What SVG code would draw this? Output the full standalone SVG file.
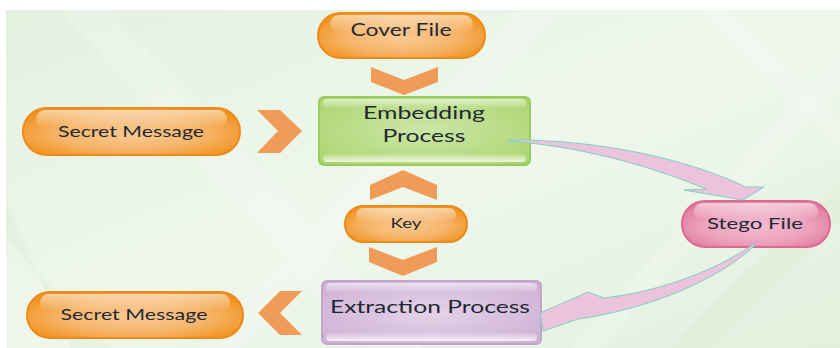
<svg xmlns="http://www.w3.org/2000/svg" width="840" height="348" viewBox="0 0 840 348">
  <defs>
    <linearGradient id="bg" x1="0" y1="0" x2="1" y2="1">
      <stop offset="0" stop-color="#e3f1df"/>
      <stop offset="0.5" stop-color="#eff7ed"/>
      <stop offset="1" stop-color="#e2f0dd"/>
    </linearGradient>
    <radialGradient id="orange" cx="0.5" cy="0.55" r="0.6">
      <stop offset="0" stop-color="#f9c993"/>
      <stop offset="0.55" stop-color="#f6b56b"/>
      <stop offset="1" stop-color="#f1921f"/>
    </radialGradient>
    <radialGradient id="pink" cx="0.5" cy="0.55" r="0.6">
      <stop offset="0" stop-color="#f3bcd0"/>
      <stop offset="0.6" stop-color="#eca2bd"/>
      <stop offset="1" stop-color="#e27a9e"/>
    </radialGradient>
    <radialGradient id="green" cx="0.5" cy="0.5" r="0.7">
      <stop offset="0" stop-color="#cde6a8"/>
      <stop offset="1" stop-color="#aad46c"/>
    </radialGradient>
    <radialGradient id="purple" cx="0.5" cy="0.5" r="0.7">
      <stop offset="0" stop-color="#e4d3e8"/>
      <stop offset="1" stop-color="#ccaed4"/>
    </radialGradient>
    <linearGradient id="gloss" x1="0" y1="0" x2="0" y2="1">
      <stop offset="0" stop-color="#ffffff" stop-opacity="0.6"/>
      <stop offset="1" stop-color="#ffffff" stop-opacity="0"/>
    </linearGradient>
    <linearGradient id="glossUp" x1="0" y1="1" x2="0" y2="0">
      <stop offset="0" stop-color="#ffffff" stop-opacity="0.8"/>
      <stop offset="1" stop-color="#ffffff" stop-opacity="0.1"/>
    </linearGradient>
  </defs>
  <style>
    .lbl { font-family: Lato, "Liberation Sans", sans-serif; fill: #1f2933; text-anchor: middle; }
    .pillO { fill: url(#orange); stroke: #ee8a18; stroke-width: 2; }
    .pillP { fill: url(#pink); stroke: #dc6a8f; stroke-width: 2; }
    .chev { fill: #f19b59; }
    .arrow { fill: #ecc3dd; stroke: #7fd0c2; stroke-width: 1; }
    .gl { fill: url(#gloss); }
    .band { fill: #ffffff; opacity: 0.18; }
    .bandD { fill: #d4e9cc; opacity: 0.25; }
  </style>

  <!-- page and panel background -->
  <rect x="0" y="0" width="840" height="348" fill="#ffffff"/>
  <rect x="6" y="10" width="834" height="338" fill="url(#bg)"/>
  <g>
    <polygon class="band" points="60,10 110,10 420,348 370,348"/>
    <polygon class="band" points="520,10 560,10 240,348 200,348"/>
    <polygon class="band" points="700,10 730,10 840,120 840,150"/>
    <polygon class="bandD" points="6,200 6,240 110,348 70,348"/>
    <polygon class="bandD" points="840,180 840,220 710,348 670,348"/>
    <polygon class="band" points="880,10 910,10 600,348 570,348"/>
  </g>

  <!-- connectors -->
  <g id="connectors">
    <!-- chevrons -->
    <polygon class="chev" points="371,67 404,80 438,67 438,82 404,95 371,82"/>
    <polygon class="chev" points="257,110 280,110 302,131 280,153 257,153 278,131"/>
    <polygon class="chev" points="403,170 437,185 437,200 403,187 370,200 370,185"/>
    <polygon class="chev" points="369,247 403,260 437,247 437,262 403,276 369,262"/>
    <polygon class="chev" points="302,291 280,291 258,313 280,335 302,335 280,313"/>
  </g>

  <!-- nodes -->
  <g id="cover-file">
    <rect class="pillO" x="318" y="13" width="167" height="45" rx="22.5"/>
    <rect class="gl" x="330" y="15" width="143" height="18" rx="9"/>
    <text class="lbl" x="401" y="36" font-size="17" textLength="101" lengthAdjust="spacingAndGlyphs">Cover File</text>
  </g>

  <g id="secret-message-in">
    <rect class="pillO" x="23" y="108" width="217" height="47" rx="23.5"/>
    <rect class="gl" x="36" y="110" width="191" height="18" rx="9"/>
    <text class="lbl" x="131" y="137" font-size="15" textLength="146" lengthAdjust="spacingAndGlyphs">Secret Message</text>
  </g>

  <g id="embedding-process">
    <rect x="319" y="97" width="211" height="68" rx="5" fill="url(#green)" stroke="#97cc5c" stroke-width="2"/>
    <rect class="gl" x="323" y="99" width="203" height="10" rx="4"/>
    <rect x="323" y="154" width="203" height="8" rx="4" fill="url(#glossUp)"/>
    <text class="lbl" x="424" y="119" font-size="17" textLength="122" lengthAdjust="spacingAndGlyphs">Embedding</text>
    <text class="lbl" x="424" y="142" font-size="17" textLength="83" lengthAdjust="spacingAndGlyphs">Process</text>
  </g>

  <g id="key">
    <rect class="pillO" x="345" y="206" width="122" height="36" rx="18"/>
    <rect class="gl" x="356" y="208" width="100" height="14" rx="7"/>
    <text class="lbl" x="406" y="228" font-size="14" textLength="31" lengthAdjust="spacingAndGlyphs">Key</text>
  </g>

  <g id="stego-file">
    <rect class="pillP" x="682" y="201" width="148" height="46" rx="23"/>
    <rect class="gl" x="694" y="203" width="124" height="17" rx="8.5"/>
    <text class="lbl" x="755" y="229" font-size="16" textLength="96" lengthAdjust="spacingAndGlyphs">Stego File</text>
  </g>

  <g id="extraction-process">
    <rect x="322" y="281" width="219" height="63" rx="5" fill="url(#purple)" stroke="#c4a4cd" stroke-width="2"/>
    <rect class="gl" x="326" y="283" width="211" height="10" rx="4"/>
    <rect x="326" y="333" width="211" height="8" rx="4" fill="url(#glossUp)"/>
    <text class="lbl" x="430" y="313" font-size="17" textLength="200" lengthAdjust="spacingAndGlyphs">Extraction Process</text>
  </g>

  <g id="secret-message-out">
    <rect class="pillO" x="27" y="292" width="216" height="46" rx="23"/>
    <rect class="gl" x="40" y="294" width="190" height="17" rx="8.5"/>
    <text class="lbl" x="134" y="320" font-size="15" textLength="147" lengthAdjust="spacingAndGlyphs">Secret Message</text>
  </g>

  <!-- curved block arrows -->
  <g id="curved-arrows">
    <path class="arrow" d="M 508,140 C 600,139 690,160 746,187 L 764,187 L 743,200 L 684,190 L 706,189 C 660,170 590,147 508,141 Z"/>
    <path class="arrow" d="M 755,243 C 728,263 672,290 604,298 L 588,292 L 540,313 L 543,331 L 578,319 C 650,309 722,278 755,245 Z"/>
  </g>
</svg>
